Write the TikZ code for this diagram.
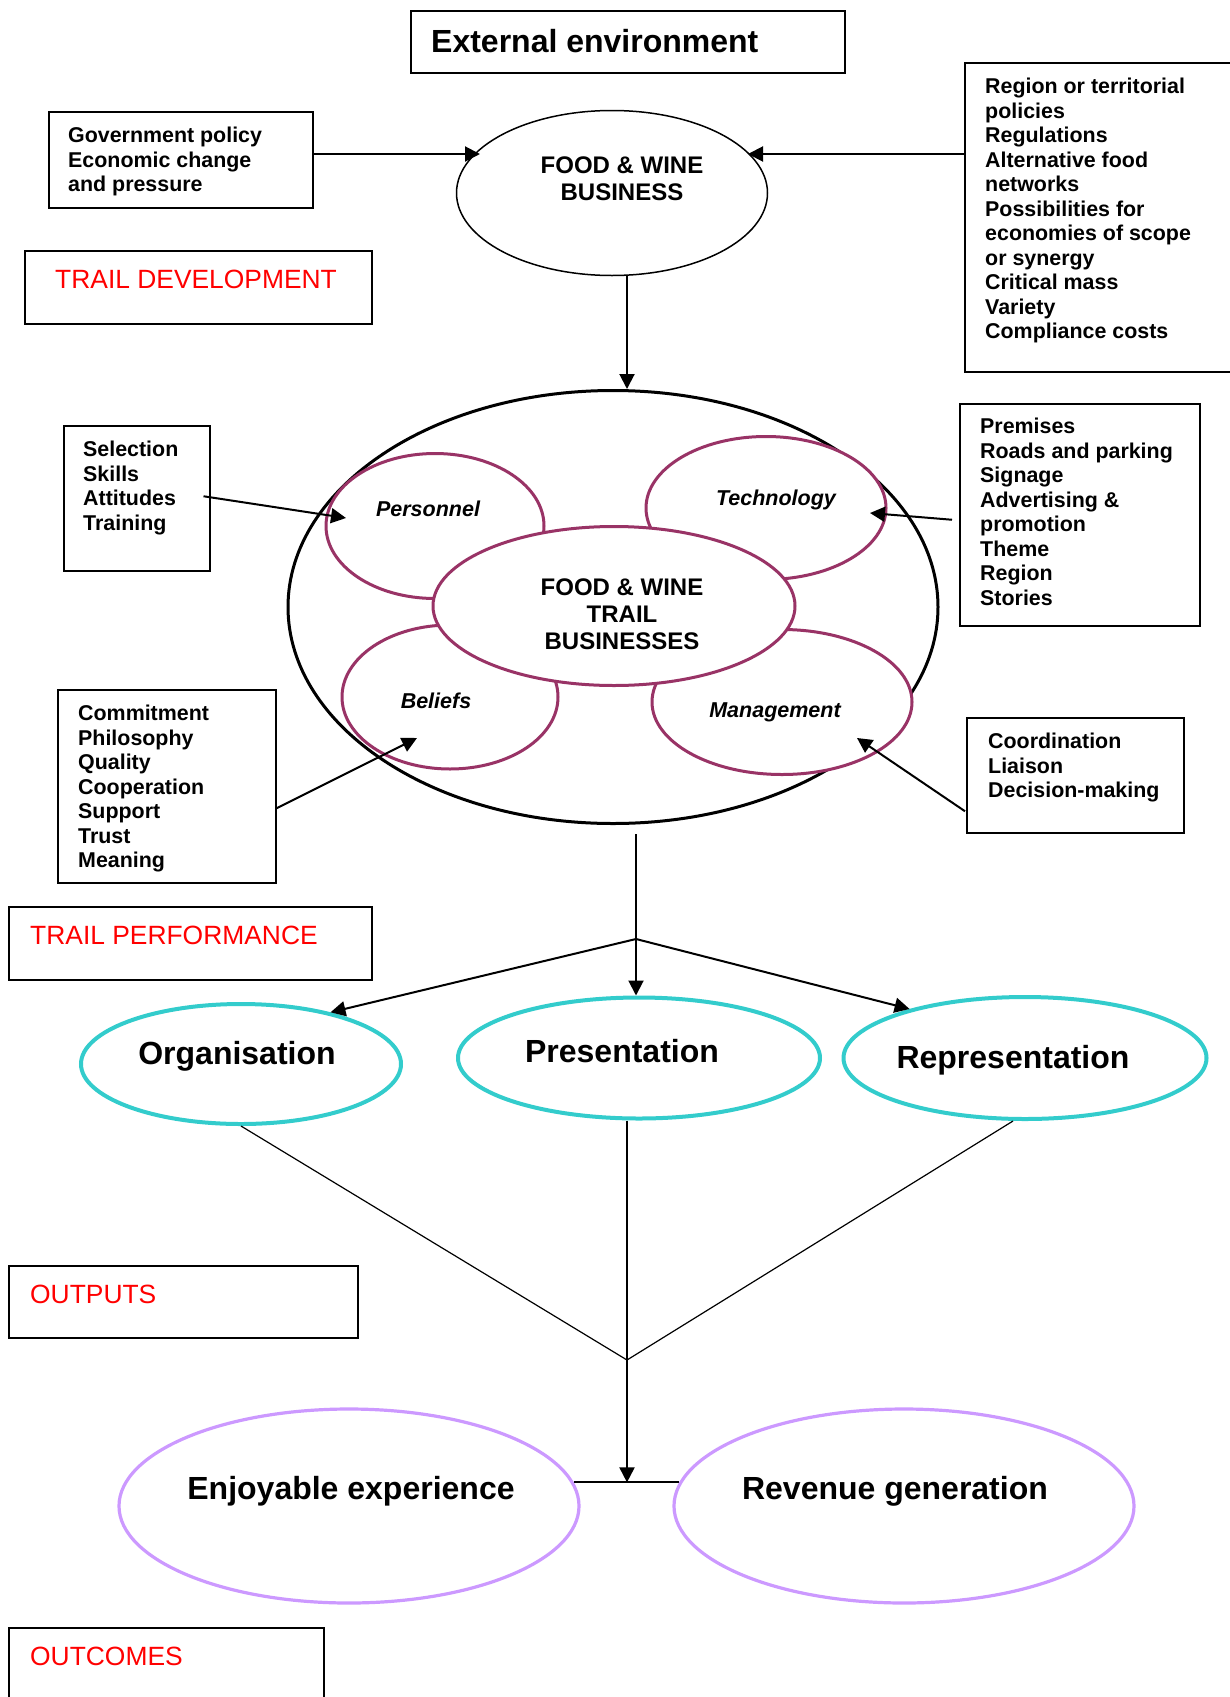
\documentclass[tikz,border=0pt]{standalone}
\usepackage{fontspec}
\setmainfont{Liberation Sans}
\usetikzlibrary{shapes.geometric,arrows.meta}
\definecolor{plum}{HTML}{993366}
\definecolor{aqua}{HTML}{33CCCC}
\definecolor{lilac}{HTML}{CC99FF}
\begin{document}
\begin{tikzpicture}[x=1pt,y=-1pt,
  box/.style={draw,line width=1.5pt,anchor=north west,inner sep=0pt},
  boxtext/.style={anchor=north west,align=left,inner sep=0pt,font=\fontsize{21.4}{24.5}\selectfont\bfseries},
  stagetext/.style={anchor=north west,inner sep=0pt,text=red,font=\fontsize{26.4}{30}\selectfont},
  oval/.style={ellipse,draw,fill=white,inner sep=0pt},
  part/.style={oval,draw=plum,line width=3pt},
  result/.style={oval,draw=aqua,line width=4pt},
  outcome/.style={oval,draw=lilac,line width=3.2pt},
  bigtext/.style={anchor=base,inner sep=0pt,font=\fontsize{32}{36}\selectfont\bfseries},
  midtext/.style={align=center,inner sep=0pt,font=\fontsize{24}{27}\selectfont\bfseries},
  parttext/.style={anchor=base,inner sep=0pt,font=\fontsize{21.5}{24}\selectfont\bfseries\itshape},
  arr/.style={-{Triangle[length=15pt,width=15pt]},line width=2pt}]
\useasboundingbox (0,0) rectangle (1229,1697);

% external environment
\node[box,minimum width=434pt,minimum height=62pt] (ext) at (410,10) {};
\node[bigtext,anchor=base west] (exttxt) at ([shift={(21,42)}]ext.north west) {External environment};
\node[box,minimum width=264pt,minimum height=96pt] (gov) at (48,111) {};
\node[boxtext] (govtxt) at ([shift={(20,16)}]gov.north west) {Government policy\\Economic change\\and pressure};
\node[box,minimum width=290pt,minimum height=309pt] (region) at (964,62) {};
\node[boxtext] (regiontxt) at ([shift={(21,16)}]region.north west) {Region or territorial\\policies\\Regulations\\Alternative food\\networks\\Possibilities for\\economies of scope\\or synergy\\Critical mass\\Variety\\Compliance costs};
\node[oval,line width=1.5pt,minimum width=311pt,minimum height=165pt] (fwb) at (612,193) {};
\node[midtext] (fwbtxt) at (622,179) {FOOD \& WINE\\BUSINESS};
\node[box,minimum width=347pt,minimum height=73pt] (dev) at (24,250) {};
\node[stagetext] (devtxt) at ([shift={(31,20)}]dev.north west) {TRAIL DEVELOPMENT};

% trail businesses
\node[oval,line width=3pt,minimum width=650pt,minimum height=433pt] (cluster) at (613,607) {};
\node[part,minimum width=218pt,minimum height=145pt] (pers) at (435,526) {};
\node[part,minimum width=240pt,minimum height=143pt] (tech) at (766,508) {};
\node[part,minimum width=216pt,minimum height=144pt] (beli) at (450,697) {};
\node[part,minimum width=260pt,minimum height=145pt] (mgmt) at (782,702) {};
\node[part,minimum width=362pt,minimum height=159pt] (trail) at (614,606) {};
\node[parttext] (perstxt) at (428,516) {Personnel};
\node[parttext] (techtxt) at (776,505) {Technology};
\node[parttext] (belitxt) at (436,708) {Beliefs};
\node[parttext] (mgmttxt) at (775,717) {Management};
\node[midtext] (trailtxt) at (622,614) {FOOD \& WINE\\TRAIL\\BUSINESSES};

\node[box,minimum width=146pt,minimum height=145pt] (sel) at (63,425) {};
\node[boxtext] (seltxt) at ([shift={(20,16)}]sel.north west) {Selection\\Skills\\Attitudes\\Training};
\node[box,minimum width=240pt,minimum height=222pt] (prem) at (959,403) {};
\node[boxtext] (premtxt) at ([shift={(21,15)}]prem.north west) {Premises\\Roads and parking\\Signage\\Advertising \&\\promotion\\Theme\\Region\\Stories};
\node[box,minimum width=218pt,minimum height=193pt] (comm) at (57,689) {};
\node[boxtext] (commtxt) at ([shift={(21,16)}]comm.north west) {Commitment\\Philosophy\\Quality\\Cooperation\\Support\\Trust\\Meaning};
\node[box,minimum width=217pt,minimum height=115pt] (coord) at (966,717) {};
\node[boxtext] (coordtxt) at ([shift={(22,16)}]coord.north west) {Coordination\\Liaison\\Decision-making};

% performance
\node[box,minimum width=363pt,minimum height=73pt] (perf) at (8,906) {};
\node[stagetext] (perftxt) at ([shift={(22,20)}]perf.north west) {TRAIL PERFORMANCE};
\node[result,minimum width=320pt,minimum height=120pt] (org) at (241,1064) {};
\node[result,minimum width=362pt,minimum height=121pt] (pres) at (639,1058) {};
\node[result,minimum width=363pt,minimum height=122pt] (rep) at (1025,1058) {};
\node[bigtext] (orgtxt) at (237,1064) {Organisation};
\node[bigtext] (prestxt) at (622,1062) {Presentation};
\node[bigtext] (reptxt) at (1013,1068) {Representation};

% outputs and outcomes
\node[box,minimum width=349pt,minimum height=72pt] (outputs) at (8,1265) {};
\node[stagetext] (outputstxt) at ([shift={(22,20)}]outputs.north west) {OUTPUTS};
\node[outcome,minimum width=460pt,minimum height=194pt] (enj) at (349,1506) {};
\node[outcome,minimum width=460pt,minimum height=194pt] (rev) at (904,1506) {};
\node[bigtext] (enjtxt) at (351,1499) {Enjoyable experience};
\node[bigtext] (revtxt) at (895,1499) {Revenue generation};
\node[box,minimum width=315pt,minimum height=90pt] (outcomes) at (8,1627) {};
\node[stagetext] (outcomestxt) at ([shift={(22,20)}]outcomes.north west) {OUTCOMES};

% connectors
\coordinate (fwbw) at ([shift={(-132,-39)}]fwb.center);
\coordinate (fwbe) at ([shift={(136,-39)}]fwb.center);
\draw[arr] (gov.east |- fwbw) -- (fwbw);
\draw[arr] (region.west |- fwbe) -- (fwbe);
\draw[arr] ([xshift=15pt]fwb.south) -- ([xshift=14pt]cluster.north);
\draw[arr] ([shift={(-7,-2)}]sel.east) -- ([shift={(-89,-8)}]pers.center);
\draw[arr] ([shift={(-7,5)}]prem.west) -- ([shift={(104,5)}]tech.center);
\draw[arr] ([shift={(0,22)}]comm.east) -- ([shift={(-33,41)}]beli.center);
\draw[arr] ([shift={(-1,36)}]coord.west) -- ([shift={(75,36)}]mgmt.center);

\coordinate (split) at (636,939);
\coordinate (merge) at (627,1360);
\draw[line width=2pt] ([shift={(23,9)}]cluster.south) -- (split);
\draw[arr] (split) -- (split |- pres.north);
\draw[arr] (split) -- (org.30);
\draw[arr] (split) -- (rep.157);
\draw[line width=1.2pt] (org.south) -- (merge);
\draw[line width=1.2pt] (merge |- pres.south) -- (merge);
\draw[line width=1.2pt] ([xshift=-12pt]rep.south) -- (merge);
\draw[arr] (merge) -- (merge |- enj.6);
\draw[line width=2pt] (enj.6) -- (rev.174);
\end{tikzpicture}
\end{document}
